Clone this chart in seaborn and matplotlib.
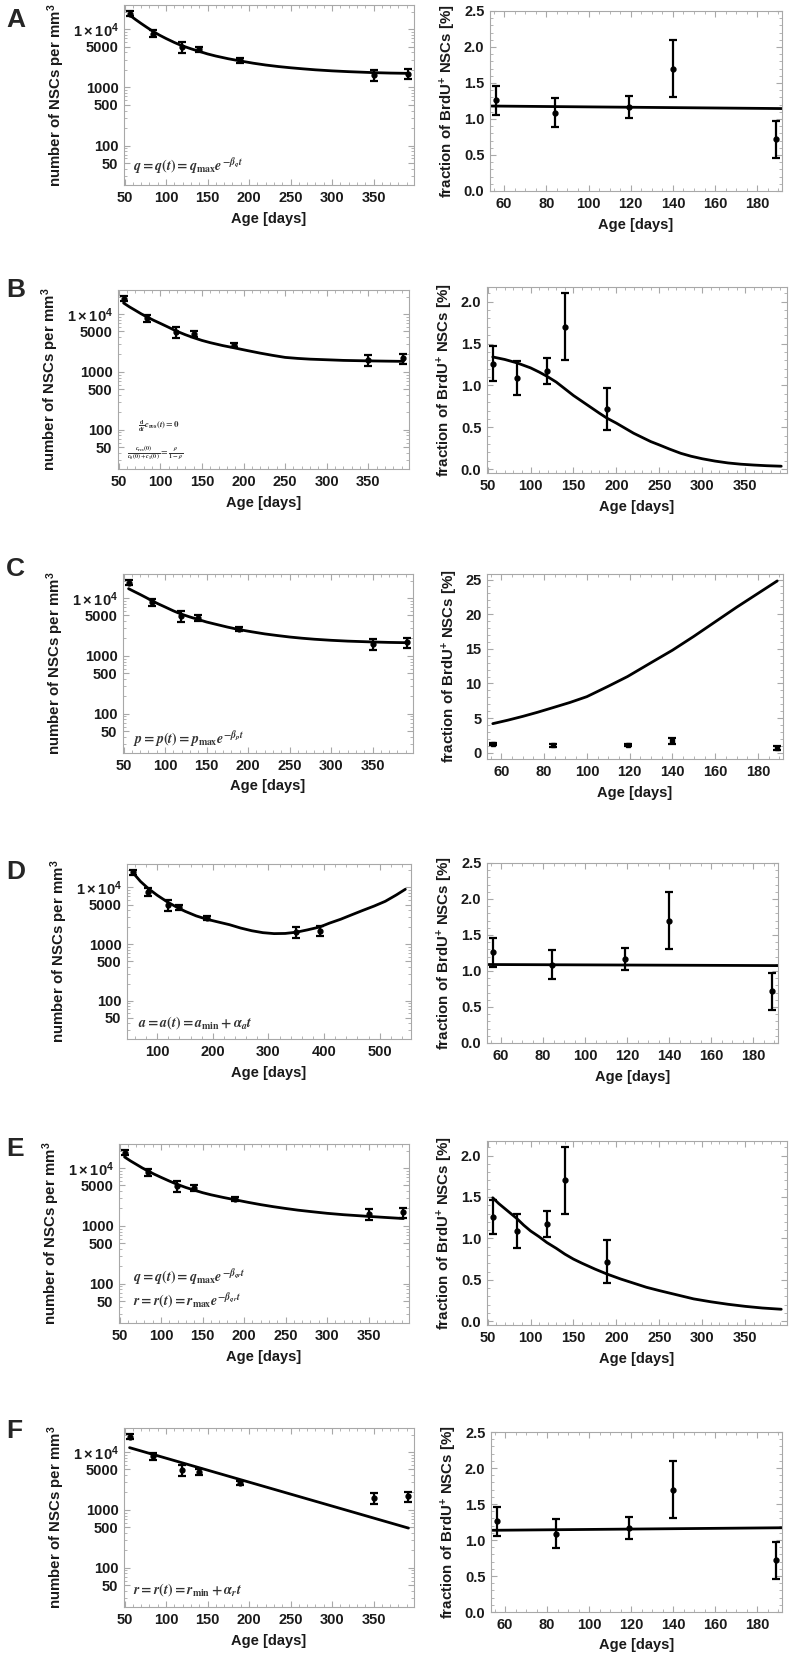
import numpy as np
import matplotlib
matplotlib.use('Agg')
import matplotlib.pyplot as plt
import seaborn as sns
from matplotlib.ticker import FixedLocator, FixedFormatter, MultipleLocator, NullFormatter

sns.set_theme(style='ticks')
plt.rcParams['font.family'] = ['Liberation Sans', 'DejaVu Sans']
plt.rcParams['font.weight'] = 'bold'
plt.rcParams['mathtext.fontset'] = 'custom'
plt.rcParams['mathtext.rm'] = 'Liberation Sans:bold'
plt.rcParams['mathtext.bf'] = 'Liberation Sans:bold'
plt.rcParams['mathtext.it'] = 'Liberation Sans:bold:italic'

# measured data (same in every row)
age = [56, 84, 119, 140, 189, 350, 392]
nsc = [18500, 8400, 4900, 4500, 2900, 1620, 1720]
nsc_err = [2000, 1200, 1000, 500, 260, 350, 350]

brdu_age = [56, 84, 119, 140, 189]
brdu = [1.26, 1.09, 1.17, 1.70, 0.72]
brdu_err = [0.205, 0.20, 0.155, 0.40, 0.255]

# model curves, left column (NSCs per mm^3)
fit_t = [56, 63, 70, 77, 84, 92, 100, 110, 119, 130, 140, 150, 160, 175, 189,
         205, 220, 235, 250, 265, 280, 300, 320, 350, 370, 392]
fitA_nsc = [17500, 14700, 12500, 10700, 9200, 7900, 6900, 5900, 5200, 4600, 4150, 3750, 3450,
            3100, 2850, 2600, 2420, 2280, 2170, 2080, 2000, 1920, 1860, 1790, 1760, 1740]
fitB_nsc = [15500, 13300, 11600, 10100, 8900, 7800, 6900, 5900, 5100, 4400, 3900, 3500, 3200,
            2850, 2600, 2330, 2110, 1930, 1780, 1710, 1660, 1620, 1580, 1550, 1535, 1520]
fitC_nsc = [14500, 12900, 11500, 10200, 9000, 7900, 7000, 6000, 5300, 4700, 4250, 3850, 3550,
            3150, 2850, 2600, 2400, 2250, 2120, 2020, 1940, 1860, 1800, 1740, 1710, 1690]
fitE_nsc = [15500, 13300, 11600, 10100, 8900, 7800, 6900, 5950, 5250, 4600, 4150, 3750, 3450,
            3100, 2830, 2550, 2330, 2150, 2000, 1870, 1770, 1650, 1560, 1460, 1400, 1340]
fitD_t = [56, 70, 84, 100, 119, 135, 150, 170, 189, 210, 230, 250, 270, 290, 310, 330,
          350, 370, 392, 410, 430, 450, 470, 490, 510, 530, 546]
fitD_nsc = [18500, 12800, 9600, 7300, 5500, 4500, 3800, 3150, 2750, 2450, 2200, 1920, 1720,
            1590, 1530, 1540, 1620, 1780, 2000, 2350, 2750, 3300, 3950, 4700, 5700, 7400, 9300]
fitF_t = [56, 392]
fitF_nsc = [11900, 485]

# model curves, right column (BrdU+ fraction)
flat_t = [54, 191.7]
fitA_brdu = [1.18, 1.145]
fitD_brdu = [1.09, 1.075]
fitF_brdu = [1.135, 1.17]
fitB_t = [56, 70, 84, 100, 110, 119, 130, 140, 150, 160, 170, 180, 189, 200, 210, 220,
          230, 240, 250, 262, 275, 287, 300, 315, 330, 345, 360, 375, 392]
fitB_brdu = [1.34, 1.31, 1.27, 1.21, 1.16, 1.11, 1.04, 0.96, 0.88, 0.81, 0.74, 0.67, 0.61,
             0.55, 0.49, 0.43, 0.38, 0.33, 0.29, 0.24, 0.19, 0.155, 0.125, 0.097, 0.075,
             0.06, 0.05, 0.042, 0.036]
fitC_t = [56, 63, 70, 77, 84, 92, 100, 110, 119, 130, 140, 150, 160, 170, 180, 189]
fitC_brdu = [4.2, 4.7, 5.25, 5.85, 6.5, 7.25, 8.1, 9.6, 11.0, 13.0, 14.8, 16.8, 18.9, 21.0,
             23.0, 24.8]
fitE_t = [56, 63, 70, 77, 84, 92, 100, 110, 119, 130, 140, 150, 160, 175, 189, 205, 220,
          235, 250, 270, 290, 310, 330, 350, 370, 392]
fitE_brdu = [1.49, 1.42, 1.36, 1.30, 1.24, 1.16, 1.09, 1.02, 0.95, 0.88, 0.81, 0.75, 0.70,
             0.63, 0.57, 0.51, 0.46, 0.41, 0.37, 0.32, 0.27, 0.235, 0.205, 0.18, 0.16, 0.145]

letters = ['A', 'B', 'C', 'D', 'E', 'F']
formulas = [
    [r'$q = q(t) = q_{\mathrm{max}}e^{-\beta_q t}$'],
    [r'$\frac{\mathrm{d}}{\mathrm{d}t}c_{\mathrm{res}}(t) = 0$',
     r'$\frac{c_{\mathrm{res}}(0)}{c_0(0)+c_1(0)} = \frac{\rho}{1-\rho}$'],
    [r'$p = p(t) = p_{\mathrm{max}}e^{-\beta_p t}$'],
    [r'$a = a(t) = a_{\mathrm{min}} + \alpha_a t$'],
    [r'$q = q(t) = q_{\mathrm{max}}e^{-\beta_{qr} t}$',
     r'$r = r(t) = r_{\mathrm{max}}e^{-\beta_{qr} t}$'],
    [r'$r = r(t) = r_{\mathrm{min}} + \alpha_r t$'],
]
formula_pos = [
    [(0.031, 0.106)],
    [(0.07, 0.236), (0.03, 0.091)],
    [(0.034, 0.082)],
    [(0.039, 0.097)],
    [(0.048, 0.259), (0.048, 0.128)],
    [(0.031, 0.10)],
]
formula_size = [10, 6.3, 10, 10, 10, 10]

left_fits = [(fit_t, fitA_nsc), (fit_t, fitB_nsc), (fit_t, fitC_nsc),
             (fitD_t, fitD_nsc), (fit_t, fitE_nsc), (fitF_t, fitF_nsc)]
right_fits = [(flat_t, fitA_brdu), (fitB_t, fitB_brdu), (fitC_t, fitC_brdu),
              (flat_t, fitD_brdu), (fitE_t, fitE_brdu), (flat_t, fitF_brdu)]

# axes boxes in pixels: x1, x2, y1, y2
W, H = 792, 1659
left_box = [(124, 414, 5, 185), (118, 409, 290, 469), (123, 413, 574, 753),
            (127, 411, 864, 1039), (119, 409, 1144, 1323), (124, 414, 1428, 1607)]
right_box = [(490, 782, 11, 191), (487, 787, 287, 473), (487, 783, 574, 759),
             (487, 778, 863, 1043), (487, 787, 1141, 1325), (491, 782, 1432, 1612)]
letter_y = [8, 278, 557, 860, 1137, 1419]

frame_col = '#a8a8a8'
fig = plt.figure(figsize=(W / 100, H / 100), dpi=100)


def make_ax(box):
    x1, x2, y1, y2 = box
    ax = fig.add_axes([x1 / W, 1 - y2 / H, (x2 - x1) / W, (y2 - y1) / H])
    for s in ax.spines.values():
        s.set_color(frame_col)
        s.set_linewidth(0.8)
    ax.tick_params(which='both', direction='in', top=True, right=True,
                   color=frame_col, labelsize=10.5, pad=4, labelcolor='#1a1a1a')
    ax.tick_params(which='major', length=4, width=0.8)
    ax.tick_params(which='minor', length=2, width=0.6)
    return ax


for i in range(6):
    # left column: NSC numbers, log scale
    ax = make_ax(left_box[i])
    ax.set_yscale('log')
    ft, fv = left_fits[i]
    sns.lineplot(x=ft, y=fv, ax=ax, color='black', lw=2.0, sort=False)
    ax.errorbar(age, nsc, yerr=nsc_err, fmt='o', color='black', ms=3.5,
                elinewidth=1.6, capsize=2.6, capthick=1.6)
    ax.set_ylim(21, 26000)
    ax.yaxis.set_major_locator(FixedLocator([50, 100, 500, 1000, 5000, 10000]))
    ax.yaxis.set_major_formatter(FixedFormatter(['50', '100', '500', '1000', '5000',
                                                 r'$1\times10^{4}$']))
    minors = [m * 10 ** k for k in range(1, 5) for m in range(2, 10) if m != 5]
    ax.yaxis.set_minor_locator(FixedLocator(minors))
    ax.yaxis.set_minor_formatter(NullFormatter())
    if i == 3:
        ax.set_xlim(45.8, 556.2)
        ax.xaxis.set_major_locator(MultipleLocator(100))
        ax.xaxis.set_minor_locator(MultipleLocator(20))
    else:
        ax.set_xlim(49.3, 398.7)
        ax.xaxis.set_major_locator(MultipleLocator(50))
        ax.xaxis.set_minor_locator(MultipleLocator(10))
    ax.set_xlabel('Age [days]', fontsize=10.5, fontweight='bold', labelpad=5, color='#1a1a1a')
    ax.set_ylabel(r'number of NSCs per mm$^{3}$', fontsize=10.8, fontweight='bold',
                  labelpad=4, color='#1a1a1a')
    for txt, (px, py) in zip(formulas[i], formula_pos[i]):
        ax.text(px, py, txt, transform=ax.transAxes, va='center', ha='left',
                fontsize=formula_size[i], color='#333333', math_fontfamily='stix')
    fig.text(6 / W, 1 - letter_y[i] / H, letters[i], fontsize=19, fontweight='bold',
             va='top', ha='left')

    # right column: BrdU+ fraction
    ax = make_ax(right_box[i])
    ft, fv = right_fits[i]
    sns.lineplot(x=ft, y=fv, ax=ax, color='black', lw=2.0, sort=False)
    ax.errorbar(brdu_age, brdu, yerr=brdu_err, fmt='s' if i == 2 else 'o', color='black',
                ms=3.5, elinewidth=1.6, capsize=2.6, capthick=1.6)
    if i in (1, 4):
        ax.set_xlim(49.3, 398.7)
        ax.xaxis.set_major_locator(MultipleLocator(50))
        ax.xaxis.set_minor_locator(MultipleLocator(10))
        ax.set_ylim(-0.045, 2.175)
        ax.yaxis.set_major_locator(MultipleLocator(0.5))
        ax.yaxis.set_minor_locator(MultipleLocator(0.1))
    else:
        ax.set_xlim(53.3, 191.7)
        ax.xaxis.set_major_locator(MultipleLocator(20))
        ax.xaxis.set_minor_locator(MultipleLocator(5))
        if i == 2:
            ax.set_ylim(-0.9, 25.8)
            ax.yaxis.set_major_locator(MultipleLocator(5))
            ax.yaxis.set_minor_locator(MultipleLocator(1))
        else:
            ax.set_ylim(0, 2.5)
            ax.yaxis.set_major_locator(MultipleLocator(0.5))
            ax.yaxis.set_minor_locator(MultipleLocator(0.1))
    if i == 2:
        ax.yaxis.set_major_formatter(plt.FuncFormatter(lambda v, p: f'{v:.0f}'))
    else:
        ax.yaxis.set_major_formatter(plt.FuncFormatter(lambda v, p: f'{v:.1f}'))
    ax.set_xlabel('Age [days]', fontsize=10.5, fontweight='bold', labelpad=5, color='#1a1a1a')
    ax.set_ylabel(r'fraction of BrdU$^{+}$ NSCs [%]', fontsize=10.8, fontweight='bold',
                  labelpad=4, color='#1a1a1a')

fig.savefig('out.png', dpi=100, facecolor='white')
